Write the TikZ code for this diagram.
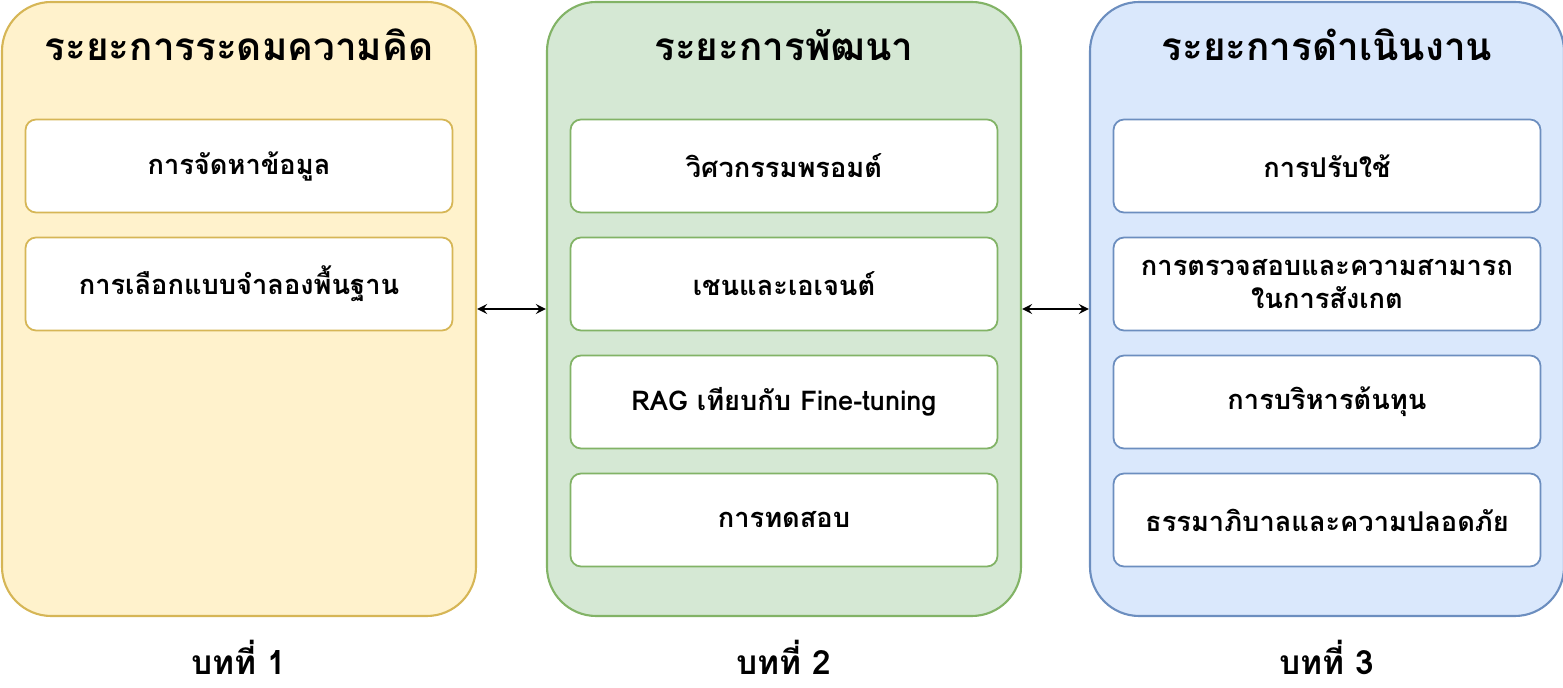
\documentclass[tikz,border=0pt]{standalone}
\usepackage{fontspec}
\setmainfont[Script=Thai]{Loma}
\usetikzlibrary{positioning}
\definecolor{ideafill}{HTML}{FFF2CC}\definecolor{ideadraw}{HTML}{D6B656}
\definecolor{devfill}{HTML}{D5E8D4}\definecolor{devdraw}{HTML}{82B366}
\definecolor{opsfill}{HTML}{DAE8FC}\definecolor{opsdraw}{HTML}{6C8EBF}
\tikzset{
  phase/.style={draw=#1draw, fill=#1fill, line width=1.2pt, rounded corners=28pt,
    minimum width=474*0.02cm, minimum height=614*0.02cm, inner sep=0pt},
  task/.style={draw=#1draw, fill=white, line width=1pt, rounded corners=6pt,
    minimum width=427*0.02cm, minimum height=93*0.02cm, align=center,
    font=\fontsize{15.5}{19}\selectfont\bfseries},
  title/.style={font=\fontsize{22}{26}\selectfont\bfseries},
  chap/.style={font=\fontsize{19}{22}\selectfont\bfseries},
  link/.style={<->, >=stealth, line width=1.5pt}
}
\begin{document}
\begin{tikzpicture}[x=0.02cm, y=-0.02cm]
	\useasboundingbox (0,0) rectangle (1563,688);
	% phase panels
	\node[phase=idea] (p1) at (239,309) {};
	\node[phase=dev] (p2) at (784,309) {};
	\node[phase=ops] (p3) at (1327,309) {};
	\node[title] at (239,45) {ระยะการระดมความคิด};
	\node[title] at (784,45) {ระยะการพัฒนา};
	\node[title] at (1327,45) {ระยะการดำเนินงาน};
	% tasks
	\node[task=idea] (t11) at (239,166) {การจัดหาข้อมูล};
	\node[task=idea] (t12) at (239,284) {การเลือกแบบจำลองพื้นฐาน};
	\node[task=dev] (t21) at (784,166) {วิศวกรรมพรอมต์};
	\node[task=dev] (t22) at (784,284) {เชนและเอเจนต์};
	\node[task=dev] (t23) at (784,402) {RAG เทียบกับ Fine-tuning};
	\node[task=dev] (t24) at (784,520) {การทดสอบ};
	\node[task=ops] (t31) at (1327,166) {การปรับใช้};
	\node[task=ops] (t32) at (1327,284) {การตรวจสอบและความสามารถ\\ในการสังเกต};
	\node[task=ops] (t33) at (1327,402) {การบริหารต้นทุน};
	\node[task=ops] (t34) at (1327,520) {ธรรมาภิบาลและความปลอดภัย};
	% links
	\draw[link] (p1.east) -- (p2.west);
	\draw[link] (p2.east) -- (p3.west);
	% chapters
	\node[chap] at (239,657) {บทที่ 1};
	\node[chap] at (784,657) {บทที่ 2};
	\node[chap] at (1327,657) {บทที่ 3};
\end{tikzpicture}
\end{document}
